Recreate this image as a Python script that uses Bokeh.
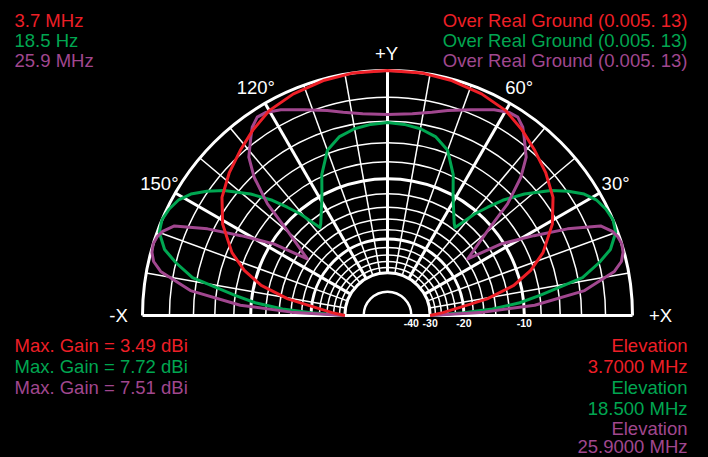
import numpy as np
from bokeh.plotting import figure
from bokeh.models import Range1d
from bokeh.core.properties import value
from bokeh.embed import file_html
from bokeh.resources import INLINE

# ---------------- data ----------------
ring_db = [0, -2, -4, -6, -8, -10, -12, -14, -16, -18, -20, -22, -24, -26, -28, -30]
thick_ring_db = [0, -10, -20, -30]
inner_ring_db = [-40]
radial_deg = [10, 20, 40, 50, 70, 80, 100, 110, 130, 140, 160, 170]
thick_radial_deg = [30, 60, 90, 120, 150]
tick_db = [-40, -30, -20, -10]
tick_labels = ["-40", "-30", "-20", "-10"]
angle_label_deg = [150, 120, 60, 30]
angle_labels = ["150°", "120°", "60°", "30°"]

red_theta = [0, 3, 6.5, 9.5, 13.4, 17.5, 22, 29, 35.5, 42, 48.3, 54, 60, 67, 75, 82, 90,
             98, 105, 113, 120, 126, 131.7, 138, 144.5, 151, 158, 162.5, 166.6, 170.5, 173.5, 177, 180]
red_db = [-30, -25.5, -20.6, -15.2, -10.9, -8.4, -6.5, -4.5, -3.2, -2.4, -1.75, -1.15, -0.6, -0.3, -0.1, 0, 0,
          0, -0.1, -0.3, -0.6, -1.15, -1.75, -2.4, -3.2, -4.5, -6.5, -8.4, -10.9, -15.2, -20.6, -25.5, -30]

green_theta = [0, 2, 3.5, 5.5, 7.5, 11, 14, 16.5, 20, 23, 26, 29, 31.7, 34.5, 37.4, 41.6, 45, 47.2, 49.4,
               51, 52.5, 54, 61, 65, 70, 75, 80, 85, 90,
               95, 100, 105, 110, 115, 119, 126, 127.5, 129, 130.6, 132.8, 135, 138.4, 142.6, 145.5,
               148.3, 151, 154, 157, 160, 163.5, 166, 169, 172.5, 174.5, 176.5, 178, 180]
green_db = [-30, -20, -14.5, -10.5, -8, -3.6, -2.0, -0.9, -0.15, 0, -0.15, -0.45, -1.0, -1.9, -3.0, -5.0, -7.0, -8.7, -10.4,
            -12.2, -13.6, -13.2, -10.2, -7.8, -5.7, -4.8, -4.4, -4.2, -4.1,
            -4.2, -4.4, -4.8, -5.7, -7.8, -10.2, -13.2, -13.6, -12.2, -10.4, -8.7, -7.0, -5.0, -3.0, -1.9,
            -1.0, -0.45, -0.15, 0, -0.15, -0.9, -2.0, -3.6, -8, -10.5, -14.5, -20, -30]

purple_theta = [0, 2, 4, 7.2, 11, 13, 15, 17, 19, 20.5, 22.8, 25.7, 28.6, 32.2, 35.2, 40.3, 42.9, 46, 48.8,
                52.5, 54.3, 56.7, 59, 60, 62.6, 68, 73.6, 77.7, 83, 90,
                97, 102.3, 106.4, 112, 117.4, 120, 121, 123.3, 125.7, 127.5, 131.2, 134, 137.1, 139.7, 144.8, 147.8,
                151.4, 154.3, 157.2, 159.5, 161, 163, 165, 167, 169, 172.8, 176, 178, 180]
purple_db = [-30, -16, -8.7, -3.6, -1.0, -0.35, -0.08, 0, -0.12, -0.35, -1.0, -3.5, -6.6, -10.3, -15.7, -10.7, -6.9, -4.2, -2.6,
             -1.5, -0.95, -0.55, -0.59, -0.7, -0.95, -1.7, -2.35, -2.8, -3.2, -3.4,
             -3.2, -2.8, -2.35, -1.7, -0.95, -0.7, -0.59, -0.55, -0.95, -1.5, -2.6, -4.2, -6.9, -10.7, -15.7, -10.3,
             -6.6, -3.5, -1.0, -0.35, -0.12, 0, -0.08, -0.35, -1.0, -3.6, -8.7, -16, -30]

top_left_texts = ["3.7 MHz", "18.5 Hz", "25.9 MHz"]
top_right_texts = ["Over Real Ground (0.005. 13)"] * 3
bottom_left_texts = ["Max. Gain = 3.49 dBi", "Max. Gain = 7.72 dBi", "Max. Gain = 7.51 dBi"]
bottom_right_texts = ["Elevation", "3.7000 MHz", "Elevation", "18.500 MHz", "Elevation", "25.9000 MHz"]

RED, GREEN, PURPLE = "#ee1f27", "#00a651", "#a1478f"
series_colors = [RED, GREEN, PURPLE]

# ---------------- geometry helpers ----------------
CX, CY, R = 387.0, 315.0, 245.0  # page-pixel centre and radius
W, H = 708, 457


def ix(px):
    return (px - CX) / R


def iy(py):
    return (CY - py) / R


def arrl(db):
    return 0.89 ** (np.abs(np.asarray(db, dtype=float)) / 2.0)


def polar_xy(theta_deg, db):
    r = arrl(db)
    t = np.radians(np.asarray(theta_deg, dtype=float))
    return r * np.cos(t), r * np.sin(t)


FONT = value("Liberation Sans")

p = figure(width=W, height=H, x_range=Range1d(ix(0), ix(W)), y_range=Range1d(iy(H), iy(0)),
           output_backend="svg", toolbar_location=None, min_border=0,
           x_axis_location=None, y_axis_location=None,
           background_fill_color="black", border_fill_color="black", outline_line_color=None)
p.grid.visible = False

# rings
r_in = float(arrl(-30))
for db in ring_db:
    lw = 3.0 if db in thick_ring_db else 1.5
    p.arc(x=0, y=0, radius=float(arrl(db)), start_angle=0, end_angle=np.pi,
          line_color="white", line_width=lw)
for db in inner_ring_db:
    p.arc(x=0, y=0, radius=float(arrl(db)), start_angle=0, end_angle=np.pi,
          line_color="white", line_width=2.5)

# radials
for deg in radial_deg + thick_radial_deg:
    t = np.radians(deg)
    lw = 3.0 if deg in thick_radial_deg else 1.5
    p.line([r_in * np.cos(t), np.cos(t)], [r_in * np.sin(t), np.sin(t)], line_color="white", line_width=lw)

# baseline
p.line([-1, 1], [0, 0], line_color="white", line_width=3)

# traces
for th, db, col in [(green_theta, green_db, GREEN), (purple_theta, purple_db, PURPLE), (red_theta, red_db, RED)]:
    x, y = polar_xy(th, db)
    p.line(x, y, line_color=col, line_width=3, line_join="round")

# dB tick labels
p.text(x=[float(arrl(d)) for d in tick_db], y=[iy(322.5)] * len(tick_db), text=tick_labels,
       text_font=FONT, text_font_size="10.5px", text_font_style="bold", text_color="white",
       text_align="center", text_baseline="middle")

# angle labels
lab_r = 1.075
p.text(x=[lab_r * np.cos(np.radians(a)) for a in angle_label_deg],
       y=[lab_r * np.sin(np.radians(a)) for a in angle_label_deg],
       text=angle_labels, text_font=FONT, text_font_size="18.5px", text_color="white",
       text_align="center", text_baseline="middle")

p.text(x=[ix(386), ix(118), ix(660)], y=[iy(53), iy(315), iy(315)], text=["+Y", "-X", "+X"],
       text_font=FONT, text_font_size="18.5px", text_color="white",
       text_align="center", text_baseline="middle")

# legend texts
top_y = [20, 40, 60]
p.text(x=[ix(14)] * 3, y=[iy(v) for v in top_y], text=top_left_texts, text_color=series_colors,
       text_font=FONT, text_font_size="18.5px", text_align="left", text_baseline="middle")
p.text(x=[ix(687)] * 3, y=[iy(v) for v in top_y], text=top_right_texts, text_color=series_colors,
       text_font=FONT, text_font_size="18.5px", text_align="right", text_baseline="middle")

bl_y = [345, 366, 387]
p.text(x=[ix(14)] * 3, y=[iy(v) for v in bl_y], text=bottom_left_texts, text_color=series_colors,
       text_font=FONT, text_font_size="18.5px", text_align="left", text_baseline="middle")

br_y = [345, 366, 387, 408, 428, 446]
br_colors = [RED, RED, GREEN, GREEN, PURPLE, PURPLE]
p.text(x=[ix(687)] * 6, y=[iy(v) for v in br_y], text=bottom_right_texts, text_color=br_colors,
       text_font=FONT, text_font_size="18.5px", text_align="right", text_baseline="middle")

html = file_html(p, INLINE, title="Elevation pattern")
html = html.replace("<head>", "<head><style>html, body { background: #000; }</style>", 1)
open("out.html", "w").write(html)
